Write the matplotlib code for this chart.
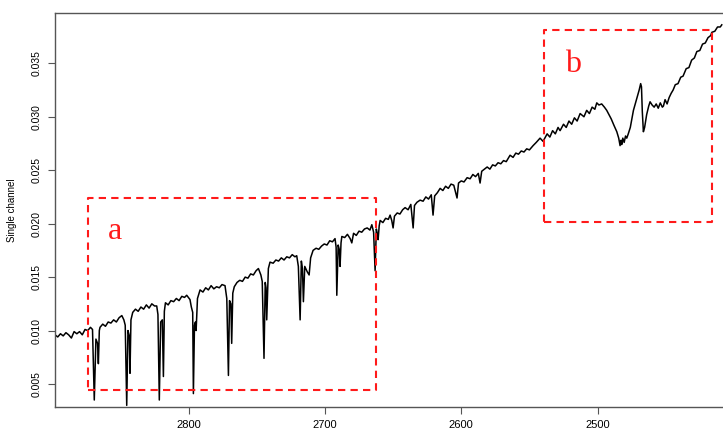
import matplotlib
matplotlib.use("Agg")
import matplotlib.pyplot as plt

# Spectrum (wavenumber, single channel)
wavenumber = [
    2898, 2896, 2894, 2892, 2890, 2888, 2886, 2884, 2882, 2880, 2878, 2876, 2874, 2872, 2870.5,
    2869.2, 2868, 2866.8, 2866.2, 2865.5, 2865,
    2863, 2861, 2859, 2857, 2855, 2853, 2851, 2849, 2847.5,
    2846.5, 2845.4, 2844.5, 2843.5, 2843, 2842.3, 2841,
    2839, 2837, 2835, 2833, 2831, 2829, 2827, 2825, 2823.4,
    2822.5, 2821.5, 2820.5, 2819.3, 2818.5, 2817.8, 2817,
    2815, 2813, 2811, 2809, 2807, 2805, 2803, 2801.4, 2799, 2798,
    2797, 2796.5, 2795.7, 2795, 2794.5, 2793.5, 2791.6,
    2789.5, 2787.5, 2785.5, 2783.5, 2781.5, 2779.5, 2777.5, 2775.5, 2773.3,
    2772, 2770.8, 2770, 2769, 2768.4, 2767.6, 2766.5,
    2764.5, 2762.5, 2760.5, 2758.5, 2756.5, 2754.5, 2752.5, 2750.5, 2748.8, 2747, 2746,
    2744.7, 2743.8, 2743.2, 2742.7, 2741.5, 2740.3,
    2738, 2736, 2734, 2732, 2730, 2728, 2726, 2724, 2722, 2720.7,
    2719.5, 2718.2, 2717.3, 2716.5, 2715.8, 2714.8, 2713, 2711.6, 2710.5, 2708.7,
    2706.5, 2704.5, 2702.5, 2700.5, 2698.5, 2696.5, 2694.5, 2692.6,
    2691.8, 2691.3, 2690.3, 2689.5, 2688.9, 2688.2, 2687.6,
    2685.5, 2683.5, 2681.5, 2680.3, 2679, 2677, 2675, 2673, 2671, 2669, 2667, 2665.6,
    2664.3, 2663.2, 2662.3, 2661.5, 2661, 2660.2, 2659.5,
    2657.5, 2655.5, 2653.5, 2652.2, 2651, 2650, 2649, 2647, 2645, 2643, 2641.2,
    2639, 2637, 2635.3, 2634.3, 2632.5, 2630.2, 2628, 2626, 2624, 2622, 2620.7, 2619.5,
    2617.5, 2615.5, 2613.5, 2611.5, 2609.5, 2607.5, 2605.5, 2603.1, 2602, 2600, 2598,
    2595.7, 2593.5, 2591.5, 2589.5, 2587.5, 2586.2, 2585, 2583, 2581, 2579, 2577, 2575,
    2573, 2571, 2569, 2567, 2564.2, 2562, 2560, 2558, 2556, 2554, 2552, 2550, 2547.3,
    2545, 2542.2, 2540, 2537, 2535, 2533, 2531, 2529, 2527.5, 2525, 2523, 2521, 2519,
    2517, 2515, 2512.8, 2510, 2508, 2506, 2504, 2502, 2500.6, 2499, 2497, 2495, 2493.3,
    2490, 2488, 2485.9, 2484.5, 2483.5, 2482.8, 2482.3, 2481.5, 2480.5, 2479.5, 2478.6,
    2477.5, 2476, 2473.7, 2471, 2469.5, 2468.4, 2467.8, 2467.2, 2466.4, 2465.5, 2464,
    2462.5, 2461.5, 2460, 2458.5, 2457, 2455.5, 2454, 2452.5, 2451.7, 2450.5, 2449,
    2447.5, 2446, 2444.6, 2443, 2441, 2439, 2437.3, 2435, 2433, 2431, 2429, 2427.2,
    2425, 2423, 2421, 2419, 2417, 2416.2, 2414, 2412, 2410, 2408.9,
]
signal = [
    0.0096, 0.0094, 0.0097, 0.0095, 0.0098, 0.0096, 0.0093, 0.0099, 0.0097, 0.0099, 0.0096, 0.0101, 0.0100, 0.0103, 0.0101,
    0.0035, 0.0092, 0.0088, 0.0069, 0.0100, 0.0103,
    0.0106, 0.0104, 0.0108, 0.0107, 0.0110, 0.0108, 0.0112, 0.0114, 0.0110,
    0.0105, 0.0030, 0.0100, 0.0095, 0.0060, 0.0110, 0.0117,
    0.0120, 0.0118, 0.0122, 0.0120, 0.0124, 0.0121, 0.0125, 0.0123, 0.0123,
    0.0115, 0.0035, 0.0108, 0.0110, 0.0057, 0.0118, 0.0126,
    0.0124, 0.0128, 0.0127, 0.0130, 0.0128, 0.0132, 0.0131, 0.0133, 0.0129, 0.0122,
    0.0117, 0.0041, 0.0105, 0.0108, 0.0100, 0.0130, 0.0138,
    0.0136, 0.0140, 0.0138, 0.0142, 0.0139, 0.0141, 0.0140, 0.0143, 0.0142,
    0.0130, 0.0058, 0.0128, 0.0125, 0.0088, 0.0135, 0.0141,
    0.0145, 0.0147, 0.0146, 0.0150, 0.0149, 0.0153, 0.0152, 0.0156, 0.0158, 0.0152, 0.0146,
    0.0074, 0.0145, 0.0140, 0.0110, 0.0158, 0.0164,
    0.0163, 0.0166, 0.0165, 0.0168, 0.0166, 0.0169, 0.0168, 0.0171, 0.0169, 0.0170,
    0.0160, 0.0110, 0.0165, 0.0158, 0.0127, 0.0160, 0.0155, 0.0152, 0.0168, 0.0175,
    0.0177, 0.0176, 0.0179, 0.0181, 0.0180, 0.0184, 0.0183, 0.0186,
    0.0178, 0.0133, 0.0180, 0.0176, 0.0160, 0.0182, 0.0188,
    0.0187, 0.0190, 0.0186, 0.0182, 0.0191, 0.0189, 0.0193, 0.0192, 0.0195, 0.0196, 0.0194, 0.0199,
    0.0192, 0.0156, 0.0195, 0.0190, 0.0185, 0.0198, 0.0203,
    0.0201, 0.0205, 0.0204, 0.0208, 0.0203, 0.0196, 0.0207, 0.0210, 0.0209, 0.0213, 0.0215,
    0.0213, 0.0218, 0.0196, 0.0217, 0.0220, 0.0222, 0.0221, 0.0225, 0.0223, 0.0227, 0.0208, 0.0226,
    0.0229, 0.0233, 0.0231, 0.0235, 0.0233, 0.0237, 0.0236, 0.0224, 0.0238, 0.0240, 0.0239,
    0.0243, 0.0242, 0.0246, 0.0244, 0.0247, 0.0238, 0.0249, 0.0251, 0.0253, 0.0251, 0.0255, 0.0254,
    0.0257, 0.0256, 0.0259, 0.0258, 0.0264, 0.0262, 0.0266, 0.0265, 0.0268, 0.0267, 0.0270, 0.0269, 0.0273,
    0.0276, 0.0280, 0.0277, 0.0284, 0.0281, 0.0287, 0.0284, 0.0290, 0.0287, 0.0293, 0.0290, 0.0296, 0.0293,
    0.0299, 0.0296, 0.0303, 0.0300, 0.0306, 0.0303, 0.0309, 0.0307, 0.0313, 0.0311, 0.0312, 0.0309, 0.0306,
    0.0298, 0.0292, 0.0286, 0.0280, 0.0273, 0.0278, 0.0274, 0.0280, 0.0276, 0.0282, 0.0280,
    0.0284, 0.0290, 0.0306, 0.0318, 0.0325, 0.0331, 0.0328, 0.0305, 0.0286, 0.0290, 0.0302,
    0.0310, 0.0314, 0.0311, 0.0309, 0.0312, 0.0308, 0.0313, 0.0309, 0.0310, 0.0316, 0.0312,
    0.0318, 0.0322, 0.0325, 0.0330, 0.0331, 0.0337, 0.0338, 0.0345, 0.0346, 0.0353, 0.0355, 0.0361,
    0.0362, 0.0368, 0.0369, 0.0374, 0.0376, 0.0379, 0.0380, 0.0384, 0.0384, 0.0386,
]

# Highlighted regions
box_names = ["a", "b"]
box_x = [(2874, 2662.5), (2539, 2416)]
box_y = [(0.00441, 0.02236), (0.02017, 0.03812)]
label_pos = [(2854, 0.01855), (2518, 0.03419)]

plt.rcParams['font.family'] = ['Liberation Sans', 'DejaVu Sans']

fig = plt.figure(figsize=(7.23, 4.30), dpi=100)
ax = fig.add_axes([0.0761, 0.0528, 0.9239, 0.9163])

ax.plot(wavenumber, signal, color='black', linewidth=1.1)

# dashed boxes + letters
for name, bx, by, lp in zip(box_names, box_x, box_y, label_pos):
    ax.plot([bx[0], bx[1], bx[1], bx[0], bx[0]],
            [by[0], by[0], by[1], by[1], by[0]],
            color='#ff1a1a', linewidth=1.5, linestyle=(0, (3.5, 2.5)))
    ax.text(lp[0], lp[1], name, color='#ff1a1a', fontsize=23,
            family=['Liberation Serif', 'DejaVu Serif'],
            ha='center', va='baseline')

ax.set_xlim(2898, 2408)
ax.set_ylim(0.00282, 0.03968)
ax.set_xticks([2800, 2700, 2600, 2500])
ax.set_yticks([0.005, 0.010, 0.015, 0.020, 0.025, 0.030, 0.035])
ax.set_yticklabels(["0.005", "0.010", "0.015", "0.020", "0.025", "0.030", "0.035"])
ax.set_ylabel('Single channel', fontsize=7, labelpad=10)

for s in ['left', 'bottom', 'top']:
    ax.spines[s].set_color('#555555')
    ax.spines[s].set_linewidth(1.0)
ax.spines['right'].set_visible(False)

ax.tick_params(axis='both', colors='#555555', labelcolor='black',
               labelsize=7.5, length=5, width=0.8)
ax.tick_params(axis='x', labelsize=8, pad=4)
ax.tick_params(axis='y', pad=5)
plt.setp(ax.get_yticklabels(), rotation=90, va='center')

plt.savefig('out.png', dpi=100)
